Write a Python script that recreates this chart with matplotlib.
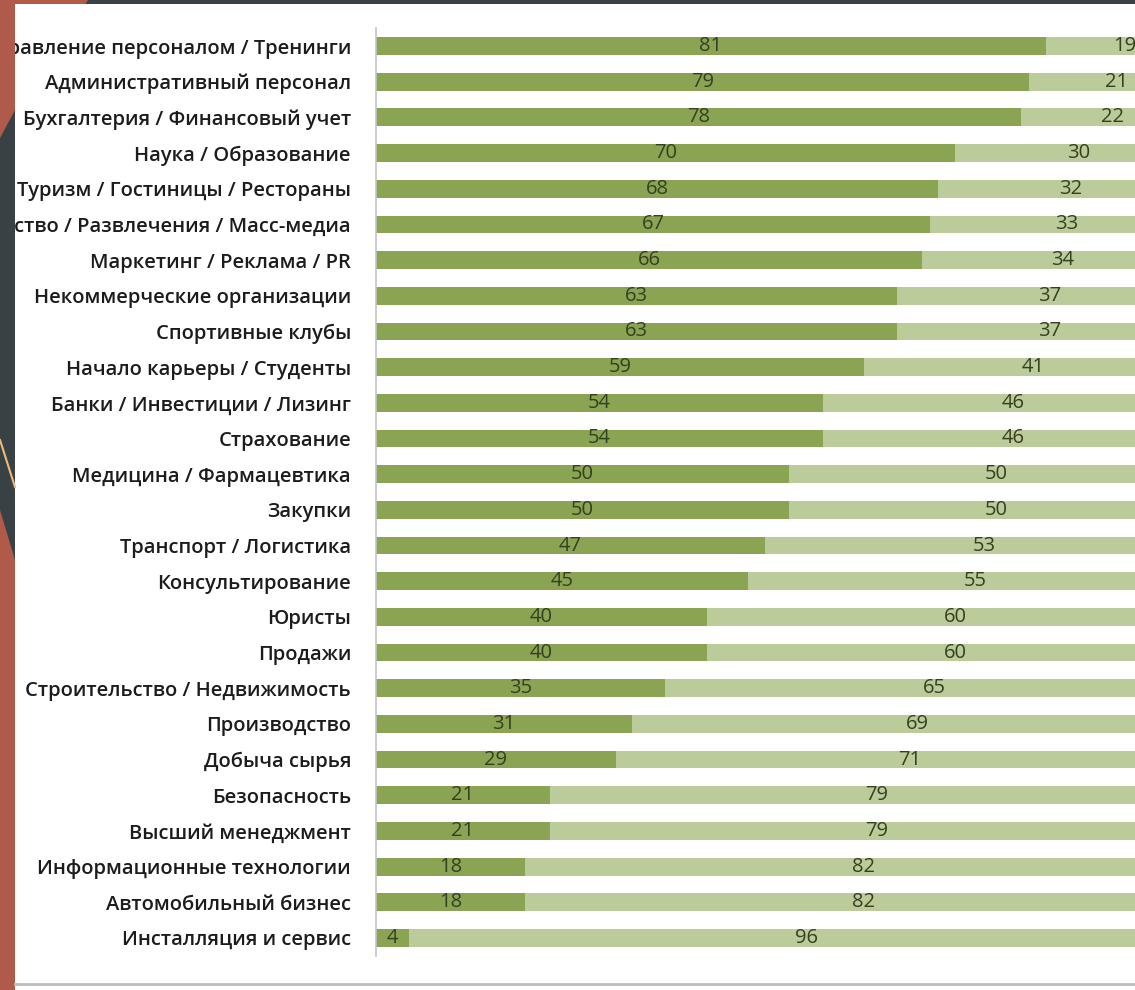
import matplotlib
matplotlib.use("Agg")
import matplotlib.pyplot as plt
from matplotlib.patches import Polygon, Rectangle
from matplotlib.lines import Line2D

categories = [
    "Управление персоналом / Тренинги",
    "Административный персонал",
    "Бухгалтерия / Финансовый учет",
    "Наука / Образование",
    "Туризм / Гостиницы / Рестораны",
    "Искусство / Развлечения / Масс-медиа",
    "Маркетинг / Реклама / PR",
    "Некоммерческие организации",
    "Спортивные клубы",
    "Начало карьеры / Студенты",
    "Банки / Инвестиции / Лизинг",
    "Страхование",
    "Медицина / Фармацевтика",
    "Закупки",
    "Транспорт / Логистика",
    "Консультирование",
    "Юристы",
    "Продажи",
    "Строительство / Недвижимость",
    "Производство",
    "Добыча сырья",
    "Безопасность",
    "Высший менеджмент",
    "Информационные технологии",
    "Автомобильный бизнес",
    "Инсталляция и сервис",
]
series_a = [81, 79, 78, 70, 68, 67, 66, 63, 63, 59, 54, 54, 50, 50, 47, 45, 40, 40, 35, 31, 29, 21, 21, 18, 18, 4]
series_b = [19, 21, 22, 30, 32, 33, 34, 37, 37, 41, 46, 46, 50, 50, 53, 55, 60, 60, 65, 69, 71, 79, 79, 82, 82, 96]

W, H = 1135, 990
FONT = ["Open Sans", "DejaVu Sans"]
DARK_G = "#8aa453"
LIGHT_G = "#bbcc9a"
NUM_C = "#34401f"

fig = plt.figure(figsize=(W / 100, H / 100), dpi=100, facecolor="white")

def px(x, y):
    return (x / W, 1 - y / H)

# axes: value 0 at x=376 px, 100 at ~1203 px (extends past the right edge)
ax_left = 376 / W
ax_w = 827 / W
ax_top = 28.2
ax_bot = 955.8
ax = fig.add_axes([ax_left, 1 - ax_bot / H, ax_w, (ax_bot - ax_top) / H])
ax.set_facecolor("none")

y = list(range(len(categories)))
ax.barh(y, series_a, height=0.5, color=DARK_G, edgecolor="none")
ax.barh(y, series_b, left=series_a, height=0.5, color=LIGHT_G, edgecolor="none")

for i, (a, b) in enumerate(zip(series_a, series_b)):
    ax.text(a / 2, i, str(a), ha="center", va="center", fontsize=14.5,
            color=NUM_C, family=FONT, clip_on=False)
    ax.text(a + b / 2, i, str(b), ha="center", va="center", fontsize=14.5,
            color=NUM_C, family=FONT, clip_on=False)

ax.set_xlim(0, 100)
ax.set_ylim(len(categories) - 0.5, -0.5)
ax.set_yticks(y)
ax.set_yticklabels(categories, fontsize=14.5, color="#1c1c1c", family=FONT,
                   fontweight="semibold")
ax.tick_params(axis="y", length=0, pad=18)
ax.set_xticks([])
for s in ["top", "right", "bottom"]:
    ax.spines[s].set_visible(False)
ax.spines["left"].set_color("#c4c4c4")
ax.spines["left"].set_linewidth(1.2)

# slide decorations around the screenshot (drawn on top, cropping the labels)
dark = "#384245"
red = "#b05a4a"
z = 10
fig.add_artist(Rectangle(px(0, H), 15 / W, 1, transform=fig.transFigure,
                         facecolor=dark, edgecolor="none", zorder=z))
fig.add_artist(Rectangle(px(0, 4), 1, 4 / H, transform=fig.transFigure,
                         facecolor=dark, edgecolor="none", zorder=z))
fig.add_artist(Polygon([px(0, 0), px(15, 0), px(15, 110), px(0, 138)],
                       closed=True, transform=fig.transFigure,
                       facecolor=red, edgecolor="none", zorder=z + 1))
fig.add_artist(Polygon([px(15, 0), px(88, 0), px(85.4, 4), px(15, 4)],
                       closed=True, transform=fig.transFigure,
                       facecolor=red, edgecolor="none", zorder=z + 1))
fig.add_artist(Polygon([px(0, 510), px(15, 560), px(15, H), px(0, H)],
                       closed=True, transform=fig.transFigure,
                       facecolor=red, edgecolor="none", zorder=z + 1))
fig.add_artist(Line2D([0, 15 / W], [1 - 440 / H, 1 - 487 / H], transform=fig.transFigure,
                      color="#f0b878", lw=1.5, zorder=z + 2))
fig.add_artist(Line2D([15 / W, 1], [1 - 984 / H, 1 - 984 / H], transform=fig.transFigure,
                      color="#bdbdbd", lw=2, zorder=z + 2))

fig.savefig("out.png", dpi=100, facecolor="white")
